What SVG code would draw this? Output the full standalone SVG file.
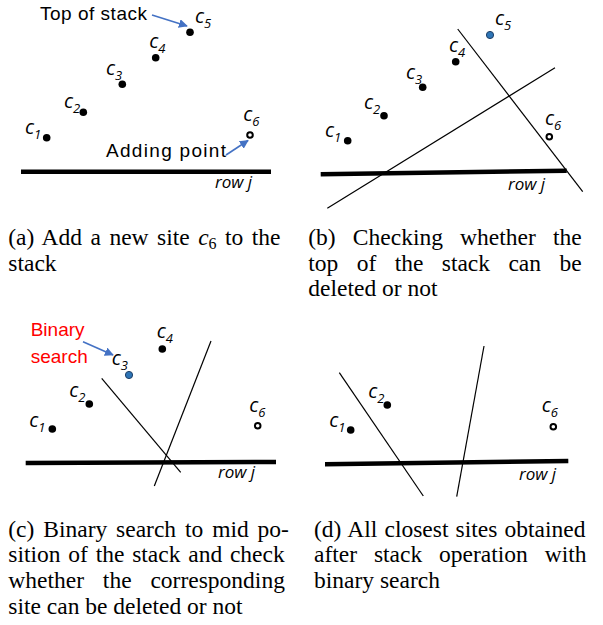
<svg xmlns="http://www.w3.org/2000/svg" width="603" height="625" viewBox="0 0 603 625">
<style>
.dot{fill:#000}
.open{fill:#fff;stroke:#000;stroke-width:2}
.blue{fill:#2E75B6;stroke:#1F3F66;stroke-width:1}
.lbl{font-family:'Open Sans','Liberation Sans',sans-serif;font-style:italic;font-size:20px;fill:#000}
.sub{font-size:13px}
.row{stroke:#000;stroke-width:4.5;fill:none}
.bis{stroke:#000;stroke-width:1.2;fill:none}
.rowt{font-family:'Open Sans','Liberation Sans',sans-serif;font-style:italic;font-size:17px;fill:#000}
.note{font-family:'Liberation Sans',Arial,sans-serif;font-size:19px;fill:#000}
.arr{stroke:#4472C4;stroke-width:1.6;fill:none;marker-end:url(#ah)}
.cap{font-family:'Liberation Serif','DejaVu Serif','Times New Roman',serif;font-size:23.5px;fill:#000}
.capi{font-style:italic}
.capsub{font-size:16px}
</style>
<defs>
<marker id="ah" viewBox="0 0 10 10" refX="9" refY="5" markerWidth="9" markerHeight="9" markerUnits="userSpaceOnUse" orient="auto">
<path d="M0,0 L10,5 L0,10 z" fill="#4472C4"/>
</marker>
</defs>

<!-- Panel (a) -->
<g id="panel-a">
<line class="row" x1="21" y1="171.7" x2="271" y2="171.7"/>
<text class="rowt" x="215" y="188">row j</text>
<g id="a-c1"><circle class="dot" cx="46.7" cy="137.7" r="3.8"/><text class="lbl" x="25" y="134">c<tspan class="sub" dy="5">1</tspan></text></g>
<g id="a-c2"><circle class="dot" cx="83.3" cy="112.3" r="3.8"/><text class="lbl" x="64" y="108">c<tspan class="sub" dy="5">2</tspan></text></g>
<g id="a-c3"><circle class="dot" cx="122.3" cy="84.3" r="3.8"/><text class="lbl" x="106" y="75">c<tspan class="sub" dy="5">3</tspan></text></g>
<g id="a-c4"><circle class="dot" cx="155.7" cy="57.7" r="3.8"/><text class="lbl" x="149.3" y="48.3">c<tspan class="sub" dy="5">4</tspan></text></g>
<g id="a-c5"><circle class="dot" cx="190" cy="32.3" r="3.8"/><text class="lbl" x="195" y="23">c<tspan class="sub" dy="4.5">5</tspan></text></g>
<g id="a-c6"><circle class="open" cx="250" cy="135" r="2.8"/><text class="lbl" x="243.3" y="121">c<tspan class="sub" dy="5">6</tspan></text></g>
<g id="a-top-note"><text class="note" x="40" y="20" textLength="107">Top of stack</text></g>
<g id="a-add-note"><text class="note" x="106" y="157" textLength="120">Adding point</text></g>
</g>

<!-- Panel (b) -->
<g id="panel-b">
<line class="row" x1="320.7" y1="174.3" x2="566.7" y2="170.7"/>
<text class="rowt" x="508" y="190">row j</text>
<g id="b-c1"><circle class="dot" cx="347.7" cy="140.7" r="3.8"/><text class="lbl" x="325" y="136.7">c<tspan class="sub" dy="5">1</tspan></text></g>
<g id="b-c2"><circle class="dot" cx="384" cy="115.7" r="3.8"/><text class="lbl" x="364" y="109">c<tspan class="sub" dy="5">2</tspan></text></g>
<g id="b-c3"><circle class="dot" cx="422.7" cy="87.3" r="3.8"/><text class="lbl" x="406" y="79.3">c<tspan class="sub" dy="5">3</tspan></text></g>
<g id="b-c4"><circle class="dot" cx="455.7" cy="61.7" r="3.8"/><text class="lbl" x="449" y="51.7">c<tspan class="sub" dy="5">4</tspan></text></g>
<g id="b-c5"><circle class="blue" cx="490" cy="35" r="3.6"/><text class="lbl" x="495" y="25">c<tspan class="sub" dy="5">5</tspan></text></g>
<g id="b-c6"><circle class="open" cx="549.3" cy="136.7" r="2.8"/><text class="lbl" x="545" y="125">c<tspan class="sub" dy="5">6</tspan></text></g>
</g>

<!-- Panel (c) -->
<g id="panel-c">
<line class="row" x1="25.7" y1="463" x2="276" y2="462"/>
<text class="rowt" x="218" y="478">row j</text>
<g id="c-c1"><circle class="dot" cx="52.3" cy="429" r="3.8"/><text class="lbl" x="29.3" y="426.7">c<tspan class="sub" dy="5">1</tspan></text></g>
<g id="c-c2"><circle class="dot" cx="89.3" cy="404" r="3.8"/><text class="lbl" x="69.3" y="397.3">c<tspan class="sub" dy="5">2</tspan></text></g>
<g id="c-c3"><circle class="blue" cx="129" cy="375" r="3.6"/><text class="lbl" x="111.7" y="365">c<tspan class="sub" dy="5">3</tspan></text></g>
<g id="c-c4"><circle class="dot" cx="162.3" cy="349" r="3.8"/><text class="lbl" x="156.7" y="338.3">c<tspan class="sub" dy="5">4</tspan></text></g>
<g id="c-c6"><circle class="open" cx="257.7" cy="425.7" r="2.8"/><text class="lbl" x="249.3" y="411.7">c<tspan class="sub" dy="5">6</tspan></text></g>
<g id="c-binary-note"><text class="note" x="30.7" y="336" style="fill:#FF0000">Binary</text><text class="note" x="30.7" y="363" style="fill:#FF0000">search</text></g>
</g>

<!-- Panel (d) -->
<g id="panel-d">
<line class="row" x1="325" y1="464.3" x2="568.3" y2="461"/>
<text class="rowt" x="519" y="480">row j</text>
<g id="d-c1"><circle class="dot" cx="350.7" cy="430" r="3.8"/><text class="lbl" x="329.3" y="426.7">c<tspan class="sub" dy="5">1</tspan></text></g>
<g id="d-c2"><circle class="dot" cx="387.3" cy="405" r="3.8"/><text class="lbl" x="368.3" y="398.3">c<tspan class="sub" dy="5">2</tspan></text></g>
<g id="d-c6"><circle class="open" cx="553.3" cy="426.7" r="2.8"/><text class="lbl" x="541.7" y="411.7">c<tspan class="sub" dy="5">6</tspan></text></g>
</g>

<!-- Connectors: arrows and bisector lines -->
<g id="connectors">
<line class="arr" x1="152" y1="15" x2="187" y2="26"/>
<line class="arr" x1="226" y1="155" x2="248" y2="140.5"/>
<line class="arr" x1="83" y1="341.7" x2="113" y2="355"/>
<line class="bis" x1="457.7" y1="29" x2="582.7" y2="191.7"/>
<line class="bis" x1="327.3" y1="208.3" x2="555" y2="67.7"/>
<line class="bis" x1="101.7" y1="378.3" x2="180.7" y2="472.3"/>
<line class="bis" x1="211" y1="341" x2="154.3" y2="486"/>
<line class="bis" x1="339.3" y1="372.7" x2="423.3" y2="496"/>
<line class="bis" x1="484" y1="346" x2="456.7" y2="496.7"/>
</g>

<!-- Captions -->
<g id="captions" font-family="'Liberation Serif', 'DejaVu Serif', serif">
<text class="cap" x="8.3" y="245" style="word-spacing:2.6px">(a) Add a new site <tspan class="capi">c</tspan><tspan class="capsub" dy="4">6</tspan><tspan dy="-4"> to the</tspan></text>
<text class="cap" x="8.3" y="270.7">stack</text>
<text class="cap" x="308.3" y="245" style="word-spacing:11.3px">(b) Checking whether the</text>
<text class="cap" x="308.3" y="270.7" style="word-spacing:12.5px">top of the stack can be</text>
<text class="cap" x="308.3" y="296.4">deleted or not</text>
<text class="cap" x="8.3" y="536.7" style="word-spacing:3px">(c) Binary search to mid po-</text>
<text class="cap" x="8.3" y="562.3" style="word-spacing:1.9px">sition of the stack and check</text>
<text class="cap" x="8.3" y="588" style="word-spacing:13px">whether the corresponding</text>
<text class="cap" x="8.3" y="613.7">site can be deleted or not</text>
<text class="cap" x="314" y="536.7" style="word-spacing:1.3px">(d) All closest sites obtained</text>
<text class="cap" x="314" y="562.3" style="word-spacing:11px">after stack operation with</text>
<text class="cap" x="314" y="588">binary search</text>
</g>
</svg>
